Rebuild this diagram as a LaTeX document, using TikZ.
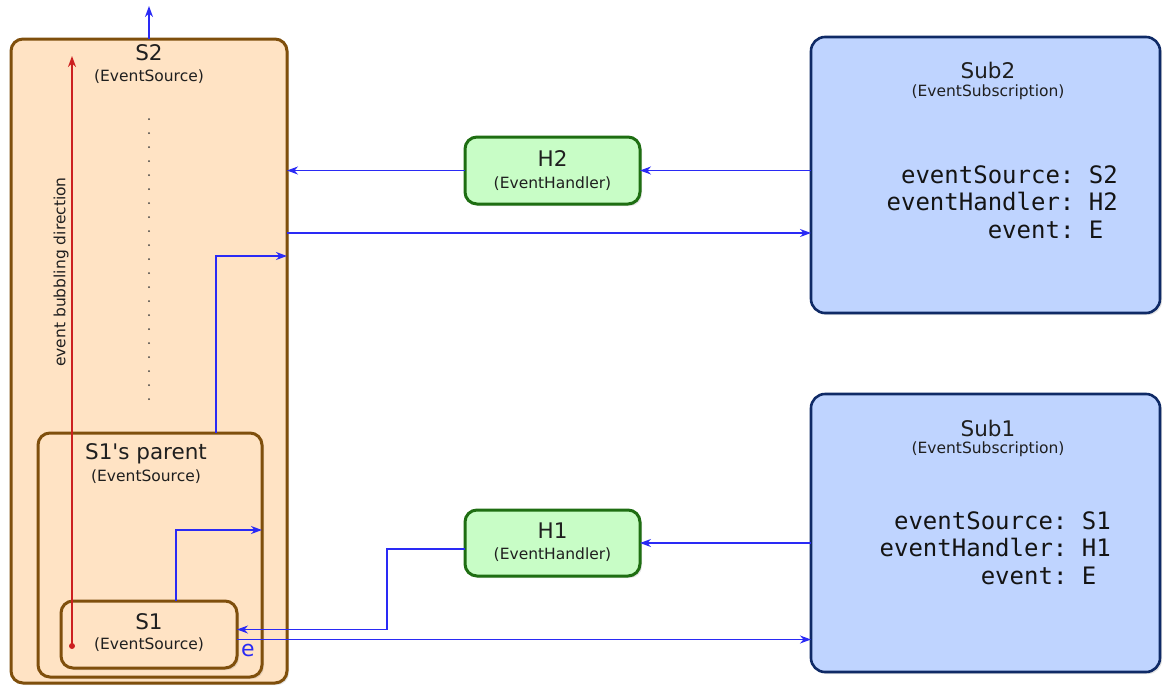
\documentclass[tikz,border=0pt]{standalone}
\usepackage{fontspec}
\setmainfont{DejaVu Sans}
\newfontfamily\monof{DejaVu Sans Mono}
\usetikzlibrary{arrows.meta,shadows,calc}
\definecolor{peach}{HTML}{FFE3C4}
\definecolor{brownline}{HTML}{7F4F0C}
\definecolor{hfill}{HTML}{C8FDC6}
\definecolor{hline}{HTML}{1E6E12}
\definecolor{subfill}{HTML}{BFD4FF}
\definecolor{subline}{HTML}{0F2A66}
\definecolor{arrblue}{HTML}{2A2AF5}
\definecolor{arrred}{HTML}{CC2020}
\newcommand{\ttl}{\fontsize{21.5}{25}\selectfont}
\newcommand{\sbt}{\fontsize{15.5}{18}\selectfont}
\begin{document}
\begin{tikzpicture}[x=1pt,y=-1pt,
  src/.style={draw=brownline, fill=peach, line width=3pt, rounded corners=12pt, inner sep=0pt, outer sep=0pt,
    drop shadow={opacity=0.22, shadow xshift=2pt, shadow yshift=-2pt}},
  hbox/.style={draw=hline, fill=hfill, line width=3pt, rounded corners=12pt, inner sep=0pt, outer sep=0pt,
    drop shadow={opacity=0.22, shadow xshift=2pt, shadow yshift=-2pt}},
  subbox/.style={draw=subline, fill=subfill, line width=2.6pt, rounded corners=14pt, inner sep=0pt, outer sep=0pt,
    drop shadow={opacity=0.22, shadow xshift=2pt, shadow yshift=-2pt}},
  ttlnode/.style={font=\ttl, inner sep=0pt, text=black!88},
  sbtnode/.style={font=\sbt, inner sep=0pt, text=black!88},
  tip/.style={-{Stealth[length=11pt,width=8pt,inset=3.5pt]}},
  arr/.style={draw=arrblue, line width=1.4pt, tip},
  fields/.style={font=\monof\fontsize{24}{27.5}\selectfont, inner sep=0pt, text=black!92}
]
\useasboundingbox (0,0) rectangle (1163,686);

% boxes
\node[src, minimum width=276pt, minimum height=644pt] (S2) at (149,361) {};
\node[src, minimum width=224pt, minimum height=244pt] (S1p) at (150,555) {};
\node[src, minimum width=176pt, minimum height=67pt] (S1) at (149,634.5) {};
\node[hbox, minimum width=175pt, minimum height=67pt] (H2) at (552.5,170.5) {};
\node[hbox, minimum width=175pt, minimum height=66pt] (H1) at (552.5,543) {};
\node[subbox, minimum width=349pt, minimum height=276pt] (Sub2) at (985.5,175) {};
\node[subbox, minimum width=349pt, minimum height=278pt] (Sub1) at (985.5,533) {};

% texts
\node[ttlnode] (S2t) at (149,53) {S2};
\node[sbtnode] (S2s) at (149,77) {(EventSource)};
\node[ttlnode] (S1pt) at (146,454) {S1\textquotesingle s parent};
\node[sbtnode] (S1ps) at (146,477) {(EventSource)};
\node[ttlnode] (S1t) at (149,622) {S1};
\node[sbtnode] (S1s) at (149,645) {(EventSource)};
\node[ttlnode] (H2t) at (552.5,159) {H2};
\node[sbtnode] (H2s) at (552.5,184) {(EventHandler)};
\node[ttlnode] (H1t) at (552.5,531) {H1};
\node[sbtnode] (H1s) at (552.5,555) {(EventHandler)};
\node[ttlnode] (Sub2t) at (988,70) {Sub2};
\node[sbtnode] (Sub2s) at (988,92) {(EventSubscription)};
\node[ttlnode] (Sub1t) at (988,428) {Sub1};
\node[sbtnode] (Sub1s) at (988,449) {(EventSubscription)};
\node[fields, anchor=north east] (Sub2f) at (1118,164)
  {\begin{tabular}{@{}r@{}l@{}}eventSource:&~S2\\eventHandler:&~H2\\event:&~E\end{tabular}};
\node[fields, anchor=north east] (Sub1f) at (1111,510)
  {\begin{tabular}{@{}r@{}l@{}}eventSource:&~S1\\eventHandler:&~H1\\event:&~E\end{tabular}};
\node[sbtnode, rotate=90] (bub) at (61,272) {event bubbling direction};
\node[font=\fontsize{22}{26}\selectfont, text=arrblue, inner sep=0pt] (elab) at (248,650) {e};

% dots
\foreach \yy in {119,133,...,405} \fill[black!75] (149,\yy) circle (1pt);

% red bubbling arrow
\coordinate (rs) at (72,646);
\coordinate (re) at (72,56);
\fill[arrred] (rs) circle (3pt);
\draw[arrred, line width=1.4pt, tip] (rs) -- (re);

% connectors
\coordinate (top) at (149,6);
\draw[arr] (S2.north) -- (top);
\draw[arr] (Sub2.west |- H2.east) -- (H2.east);
\draw[arr] (H2.west) -- (S2.east |- H2.west);
\coordinate (y233) at (0,233);
\draw[arr] (S2.east |- y233) -- (Sub2.west |- y233);
\coordinate (pup) at ([xshift=66pt]S1p.north);
\coordinate (y256) at (0,256);
\draw[arr] (pup) |- (S2.east |- y256);
\coordinate (s1up) at ([xshift=27pt]S1.north);
\coordinate (y530) at (0,530);
\draw[arr] (s1up) |- (S1p.east |- y530);
\draw[arr] (Sub1.west |- H1.east) -- (H1.east);
\coordinate (h1out) at ([yshift=-6pt]H1.west);
\coordinate (s1in) at ([yshift=5pt]S1.east);
\draw[arr] (h1out) -- ++(-78,0) |- (s1in);
\coordinate (s1out) at ([yshift=-5pt]S1.east);
\draw[arr] (s1out) -- (s1out -| Sub1.west);
\end{tikzpicture}
\end{document}
